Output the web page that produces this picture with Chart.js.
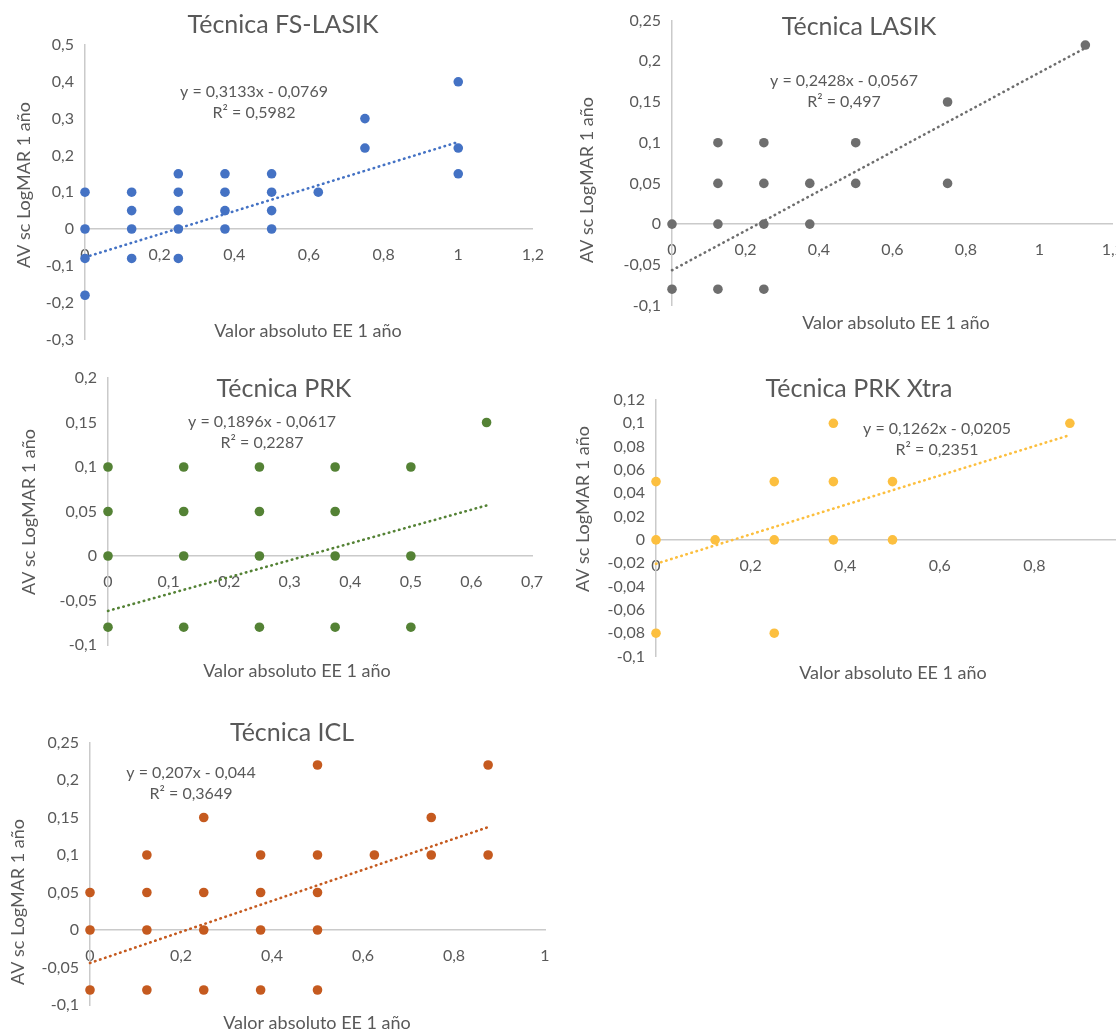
<!DOCTYPE html>
<html>
<head>
<meta charset="utf-8">
<script src="https://cdn.jsdelivr.net/npm/chart.js@4.4.1/dist/chart.umd.min.js"></script>
<style>
  html, body { margin: 0; padding: 0; background: #fff; }
  body { width: 1116px; height: 1036px; overflow: hidden; position: relative; }
  canvas { position: absolute; }
</style>
</head>
<body>
<canvas id="c1"></canvas>
<canvas id="c2"></canvas>
<canvas id="c3"></canvas>
<canvas id="c4"></canvas>
<canvas id="c5"></canvas>
<script>
// Datos (x = valor absoluto EE, y = AV sc LogMAR)
const fsX = [0, 0, 0, 0, 0.125, 0.125, 0.125, 0.125, 0.25, 0.25, 0.25, 0.25, 0.25,
             0.375, 0.375, 0.375, 0.375, 0.5, 0.5, 0.5, 0.5, 0.625, 0.75, 0.75, 1, 1, 1];
const fsY = [0.1, 0, -0.08, -0.18, 0.1, 0.05, 0, -0.08, 0.15, 0.1, 0.05, 0, -0.08,
             0.15, 0.1, 0.05, 0, 0.15, 0.1, 0.05, 0, 0.1, 0.3, 0.22, 0.4, 0.22, 0.15];

const lasikX = [0, 0, 0.125, 0.125, 0.125, 0.125, 0.25, 0.25, 0.25, 0.25, 0.375, 0.375, 0.5, 0.5, 0.75, 0.75, 1.125];
const lasikY = [0, -0.08, 0.1, 0.05, 0, -0.08, 0.1, 0.05, 0, -0.08, 0.05, 0, 0.1, 0.05, 0.15, 0.05, 0.22];

const prkX = [0, 0, 0, 0, 0.125, 0.125, 0.125, 0.125, 0.25, 0.25, 0.25, 0.25,
              0.375, 0.375, 0.375, 0.375, 0.5, 0.5, 0.5, 0.625];
const prkY = [0.1, 0.05, 0, -0.08, 0.1, 0.05, 0, -0.08, 0.1, 0.05, 0, -0.08,
              0.1, 0.05, 0, -0.08, 0.1, 0, -0.08, 0.15];

const xtraX = [0, 0, 0, 0.125, 0.25, 0.25, 0.25, 0.375, 0.375, 0.375, 0.5, 0.5, 0.875];
const xtraY = [0.05, 0, -0.08, 0, 0.05, 0, -0.08, 0.1, 0.05, 0, 0.05, 0, 0.1];

const iclX = [0, 0, 0, 0.125, 0.125, 0.125, 0.125, 0.25, 0.25, 0.25, 0.25,
              0.375, 0.375, 0.375, 0.375, 0.5, 0.5, 0.5, 0.5, 0.5, 0.625, 0.75, 0.75, 0.875, 0.875];
const iclY = [0.05, 0, -0.08, 0.1, 0.05, 0, -0.08, 0.15, 0.05, 0, -0.08,
              0.1, 0.05, 0, -0.08, 0.22, 0.1, 0.05, 0, -0.08, 0.1, 0.15, 0.1, 0.22, 0.1];

// Lineas de tendencia (de las ecuaciones mostradas)
const titulos = ['Técnica FS-LASIK', 'Técnica LASIK', 'Técnica PRK', 'Técnica PRK Xtra', 'Técnica ICL'];
const pendientes = [0.3133, 0.2428, 0.1896, 0.1262, 0.207];
const intercepts = [-0.0769, -0.0567, -0.0617, -0.0205, -0.044];
const r2 = [0.5982, 0.497, 0.2287, 0.2351, 0.3649];

// Ejes
const xMax = [1.2, 1.2, 0.7, 1, 1];
const xStep = [0.2, 0.2, 0.1, 0.2, 0.2];
const yMin = [-0.3, -0.1, -0.1, -0.1, -0.1];
const yMax = [0.5, 0.25, 0.2, 0.12, 0.25];
const yStep = [0.1, 0.05, 0.05, 0.02, 0.05];

const colores = ['#4472C4', '#6e6e6e', '#548235', '#FCBF3F', '#C55A1F'];
const tituloX = 'Valor absoluto EE 1 año';
const tituloY = 'AV sc LogMAR 1 año';

// Posiciones en la pagina (canvas y area del grafico)
const cajas = [
  { canvas: [0, 0, 560, 360],   area: [85, 45, 541, 346],
    title: [283, 25], eq: [254, 92], ty: [24, 185], tx: [308, 331] },
  { canvas: [560, 0, 580, 330], area: [672, 13.5, 1116, 305.5],
    title: [859, 27], eq: [844, 81], ty: [587, 180], tx: [896, 323] },
  { canvas: [0, 350, 560, 335], area: [108, 378, 532, 645],
    title: [284, 389], eq: [262, 422], ty: [29, 512], tx: [297, 671] },
  { canvas: [560, 360, 600, 330], area: [656, 400, 1129, 656.5],
    title: [859, 389], eq: [937, 429], ty: [583, 509], tx: [893, 673] },
  { canvas: [0, 700, 570, 336], area: [90, 742.5, 545, 1005],
    title: [292, 733], eq: [191, 773], ty: [18, 902], tx: [317, 1023] }
];

const fmt = v => String(parseFloat(v.toFixed(4))).replace('.', ',');

// Plugin para los textos (titulo, ecuacion, titulos de ejes)
const textos = {
  id: 'textos',
  afterDraw(chart, args, opts) {
    const ctx = chart.ctx;
    ctx.save();
    ctx.fillStyle = '#595959';
    ctx.textAlign = 'center';
    ctx.textBaseline = 'middle';
    opts.items.forEach(t => {
      ctx.save();
      ctx.font = t.size + 'px Lato';
      ctx.translate(t.x - opts.left, t.y - opts.top);
      if (t.rot) ctx.rotate(-Math.PI / 2);
      ctx.fillText(t.text, 0, 0);
      ctx.restore();
    });
    ctx.restore();
  }
};

const puntos = [[fsX, fsY], [lasikX, lasikY], [prkX, prkY], [xtraX, xtraY], [iclX, iclY]];

puntos.forEach(([xs, ys], i) => {
  const caja = cajas[i];
  const [cl, ct, cw, ch] = caja.canvas;
  const [al, at, ar, ab] = caja.area;
  const el = document.getElementById('c' + (i + 1));
  el.width = cw; el.height = ch;
  el.style.left = cl + 'px'; el.style.top = ct + 'px';

  const data = xs.map((x, k) => ({ x: x, y: ys[k] }));
  const xFin = Math.max(...xs);
  const tendencia = [
    { x: 0, y: intercepts[i] },
    { x: xFin, y: pendientes[i] * xFin + intercepts[i] }
  ];

  new Chart(el, {
    type: 'scatter',
    data: {
      datasets: [{
        type: 'line',
        data: tendencia,
        borderColor: colores[i],
        borderWidth: 2.6,
        borderDash: [0.5, 4.8],
        borderCapStyle: 'round',
        pointRadius: 0,
        fill: false,
        clip: false
      }, {
        data: data,
        backgroundColor: colores[i],
        borderColor: colores[i],
        borderWidth: 0,
        pointRadius: 4.8,
        clip: false
      }]
    },
    options: {
      responsive: false,
      animation: false,
      layout: { padding: { left: 0, top: at - ct, right: cl + cw - ar, bottom: ct + ch - ab } },
      plugins: {
        legend: { display: false },
        tooltip: { enabled: false },
        textos: {
          left: cl, top: ct,
          items: [
            { text: titulos[i], x: caja.title[0], y: caja.title[1], size: 25 },
            { text: 'y = ' + fmt(pendientes[i]) + 'x - ' + fmt(-intercepts[i]), x: caja.eq[0], y: caja.eq[1], size: 16 },
            { text: 'R² = ' + fmt(r2[i]), x: caja.eq[0], y: caja.eq[1] + 21, size: 16 },
            { text: tituloY, x: caja.ty[0], y: caja.ty[1], size: 18, rot: true },
            { text: tituloX, x: caja.tx[0], y: caja.tx[1], size: 18 }
          ]
        }
      },
      scales: {
        x: {
          type: 'linear',
          min: 0, max: xMax[i],
          position: { y: 0 },
          grid: { display: false, drawTicks: false },
          border: { display: true, color: '#cacaca', width: 1.5 },
          ticks: {
            stepSize: xStep[i], padding: 16, color: '#595959',
            font: { family: 'Lato', size: 16 },
            callback: v => fmt(v)
          },
          afterFit: s => { s.height = 0; }
        },
        y: {
          type: 'linear',
          min: yMin[i], max: yMax[i],
          position: 'left',
          grid: { display: false, drawTicks: false },
          border: { display: true, color: '#cacaca', width: 1.5 },
          ticks: {
            stepSize: yStep[i], padding: 11, color: '#595959',
            font: { family: 'Lato', size: 16 },
            callback: v => fmt(v)
          },
          afterFit: s => { s.width = al - cl; }
        }
      }
    },
    plugins: [textos]
  });
});
</script>
</body>
</html>
